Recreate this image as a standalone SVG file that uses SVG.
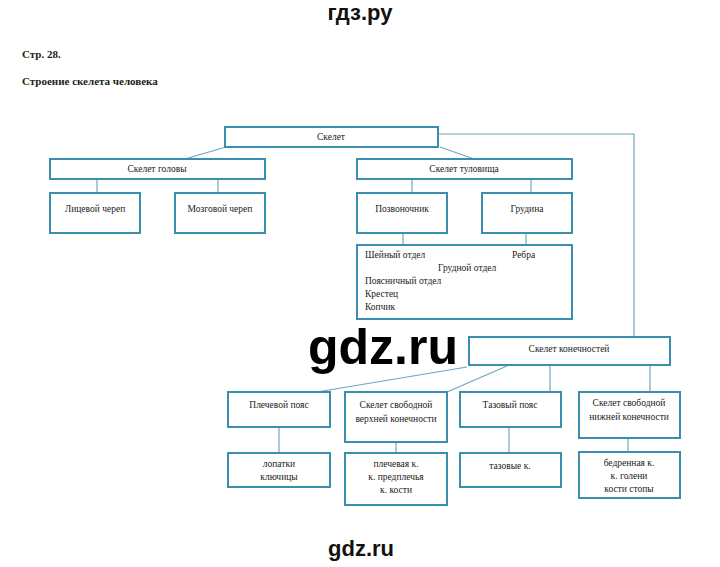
<svg xmlns="http://www.w3.org/2000/svg" width="720" height="567" viewBox="0 0 720 567">
<style>
.b{fill:#fff;stroke:#3b8fae;stroke-width:2}
.c line,.c polyline{stroke:#6aa8c0;stroke-width:1.2;fill:none}
text{font-family:"Liberation Serif","Times New Roman",serif;font-size:9.5px;fill:#222}
.m{text-anchor:middle}
</style>
<rect width="720" height="567" fill="#fff"/>
<text x="360" y="20" class="m" style="font-family:'Liberation Sans',sans-serif;font-size:22px;font-weight:bold;fill:#111">гдз.ру</text>
<text x="22" y="58" style="font-size:11px;font-weight:bold">Стр. 28.</text>
<text x="22" y="85" style="font-size:11px;font-weight:bold">Строение скелета человека</text>
<g class="c">
<polyline points="438,134 634,134 634,337"/>
<line x1="226" y1="147" x2="185" y2="159"/><line x1="440" y1="147" x2="474" y2="159"/>
<line x1="97" y1="179" x2="97" y2="193"/><line x1="218" y1="179" x2="218" y2="193"/>
<line x1="412" y1="179" x2="412" y2="193"/><line x1="531" y1="179" x2="531" y2="193"/>
<line x1="403" y1="233" x2="403" y2="245"/><line x1="526" y1="233" x2="526" y2="245"/>
<line x1="467" y1="367" x2="317" y2="392"/><line x1="507" y1="366" x2="447" y2="392"/>
<line x1="550" y1="365" x2="550" y2="392"/><line x1="650" y1="365" x2="650" y2="392"/>
<line x1="279" y1="427" x2="279" y2="453"/><line x1="396" y1="442" x2="396" y2="453"/>
<line x1="509" y1="427" x2="509" y2="453"/><line x1="628" y1="438" x2="628" y2="452"/>
</g>
<g id="skelet"><rect class="b" x="225" y="127" width="213" height="20"/><text x="331" y="140" class="m">Скелет</text></g>
<g id="golova"><rect class="b" x="50" y="159" width="215" height="20"/><text x="157" y="172" class="m">Скелет головы</text></g>
<g id="tulov"><rect class="b" x="357" y="159" width="215" height="20"/><text x="464" y="172" class="m">Скелет туловища</text></g>
<g id="lic"><rect class="b" x="50" y="193" width="90" height="40"/><text x="95" y="212" class="m">Лицевой череп</text></g>
<g id="mozg"><rect class="b" x="175" y="193" width="90" height="40"/><text x="220" y="212" class="m">Мозговой череп</text></g>
<g id="pozv"><rect class="b" x="357" y="193" width="90" height="40"/><text x="402" y="212" class="m">Позвоночник</text></g>
<g id="grud"><rect class="b" x="482" y="193" width="90" height="40"/><text x="527" y="212" class="m">Грудина</text></g>
<g id="otdely"><rect class="b" x="357" y="245" width="215" height="74"/>
<text x="365" y="258">Шейный отдел</text><text x="512" y="258">Ребра</text>
<text x="438" y="271">Грудной отдел</text><text x="365" y="284">Поясничный отдел</text>
<text x="365" y="297">Крестец</text><text x="365" y="310">Копчик</text></g>
<g id="konech"><rect class="b" x="469" y="337" width="201" height="28"/><text x="569" y="352" class="m">Скелет конечностей</text></g>
<g id="plech"><rect class="b" x="228" y="392" width="102" height="35"/><text x="279" y="408" class="m">Плечевой пояс</text></g>
<g id="verh"><rect class="b" x="345" y="392" width="102" height="50"/><text x="396" y="408" class="m">Скелет свободной</text><text x="396" y="422" class="m">верхней конечности</text></g>
<g id="taz"><rect class="b" x="460" y="392" width="101" height="35"/><text x="510" y="408" class="m">Тазовый пояс</text></g>
<g id="nizh"><rect class="b" x="579" y="392" width="101" height="46"/><text x="629" y="406" class="m">Скелет свободной</text><text x="629" y="420" class="m">нижней конечности</text></g>
<g id="lop"><rect class="b" x="228" y="453" width="102" height="34"/><text x="279" y="467" class="m">лопатки</text><text x="279" y="480" class="m">ключицы</text></g>
<g id="plk"><rect class="b" x="345" y="453" width="102" height="52"/><text x="396" y="467" class="m">плечевая к.</text><text x="396" y="480" class="m">к. предплечья</text><text x="396" y="493" class="m">к. кости</text></g>
<g id="tazk"><rect class="b" x="460" y="453" width="101" height="34"/><text x="510" y="469" class="m">тазовые к.</text></g>
<g id="bedr"><rect class="b" x="579" y="452" width="101" height="46"/><text x="629" y="466" class="m">бедренная к.</text><text x="629" y="479" class="m">к. голени</text><text x="629" y="492" class="m">кости стопы</text></g>
<text x="383" y="364" class="m" style="font-family:'Liberation Sans',sans-serif;font-size:50px;font-weight:bold;fill:#000">gdz.ru</text>
<text x="361" y="556" class="m" style="font-family:'Liberation Sans',sans-serif;font-size:22px;font-weight:bold;fill:#111">gdz.ru</text>
</svg>
